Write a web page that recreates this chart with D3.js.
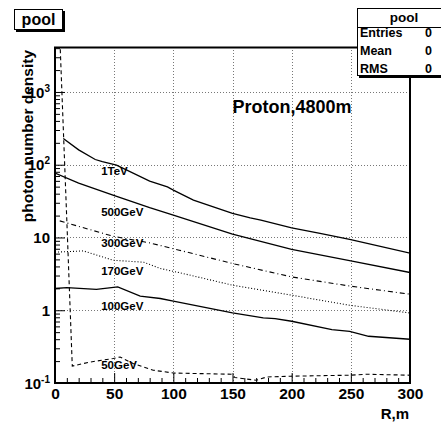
<!DOCTYPE html>
<html><head><meta charset="utf-8">
<script src="https://cdn.jsdelivr.net/npm/d3@7"></script>
<style>
html,body{margin:0;padding:0;background:#fff;}
svg text{font-family:"Liberation Sans",Arial,Helvetica,sans-serif;font-weight:bold;fill:#000;}
</style></head>
<body>
<svg id="c" width="441" height="424"></svg>
<script>
// ---- data ----
const seriesNames = ["1TeV","500GeV","300GeV","170GeV","100GeV","50GeV"];
const r1TeV = [7,20,34,40,52,80,95,100,117,150,165,174,200,224,249,300];
const v1TeV = [230,160,118,110,99,59.5,49.7,44.8,32.6,21.4,18.6,17.3,13.6,11.4,9.4,6.1];
const r500 = [0,20,49,80,100,150,200,250,300];
const v500 = [76.6,56,38.2,25.7,20.3,11.1,6.84,4.77,3.30];
const r300 = [4,49,80,105,150,200,250,300];
const v300 = [16.9,10.4,8.43,6.69,4.39,2.87,2.14,1.66];
const r170 = [0,24,49,75,89,106,150,200,249,300];
const v170 = [6.28,6.54,4.87,4.57,3.75,3.26,2.21,1.61,1.17,0.918];
const r100 = [0,10,35,53,72,89,100,150,176,186,200,234,249,265,300];
const v100 = [1.99,2.05,1.93,2.09,1.56,1.45,1.33,0.918,0.784,0.769,0.706,0.543,0.514,0.439,0.399];
const r50 = [4,10,14.6,29.6,49.3,55,66,83,100,149,152,170,179,199,249,263,300];
const v50 = [6000,17,0.171,0.194,0.217,0.228,0.185,0.150,0.137,0.132,0.119,0.109,0.121,0.124,0.128,0.132,0.128];
// label anchor positions (data coords)
const labelR = [39,39,39,39,39,39];
const labelV = [72,19.6,7.36,3.03,1.0,0.154];
const xTickValues = [0,50,100,150,200,250,300];
const yTickValues = [0.1,1,10,100,1000];
const yTickLabels = [["10","-1"],["1",""],["10",""],["10","2"],["10","3"]];
const xTitle = "R,m", yTitle = "photon number density";
const annot = "Proton,4800m", annotR = 150, annotV = 510;
const statNames = ["Entries","Mean","RMS"], statVals = ["0","0","0"];

// ---- layout ----
const L=55,R=410,T=47,B=383;
const svg = d3.select("#c");
const x = d3.scaleLinear().domain([0,300]).range([L,R]);
const y = d3.scaleLog().domain([0.1,4150]).range([B,T]);

svg.append("rect").attr("width",441).attr("height",424).attr("fill","#fff");
svg.append("defs").append("clipPath").attr("id","pc")
  .append("rect").attr("x",L).attr("y",T).attr("width",R-L).attr("height",B-T);

// grid
const grid = svg.append("g").attr("stroke","#777").attr("stroke-width",1).attr("stroke-dasharray","1,2");
[50,100,150,200,250].forEach(v=>grid.append("line").attr("x1",Math.round(x(v))+0.5).attr("x2",Math.round(x(v))+0.5).attr("y1",T).attr("y2",B));
[1,10,100,1000].forEach(v=>grid.append("line").attr("x1",L).attr("x2",R).attr("y1",Math.round(y(v))+0.5).attr("y2",Math.round(y(v))+0.5));

// curves
const line = d3.line().x(d=>x(d[0])).y(d=>y(d[1]));
const series = [
  [r1TeV,v1TeV,null,1.3],
  [r500,v500,null,1.3],
  [r300,v300,"5,3,1,3",1.1],
  [r170,v170,"1,2",1.1],
  [r100,v100,null,1.3],
  [r50,v50,"4,3",1.1]
];
const cg = svg.append("g").attr("clip-path","url(#pc)");
series.forEach(s=>{
  cg.append("path").datum(s[0].map((r,i)=>[r,s[1][i]]))
    .attr("d",line).attr("fill","none").attr("stroke","#000")
    .attr("stroke-width",s[3]).attr("stroke-dasharray",s[2]);
});

// series labels
seriesNames.forEach((n,i)=>{
  svg.append("text").attr("x",x(labelR[i])).attr("y",y(labelV[i]))
    .attr("font-size","11.5px").text(n);
});
svg.append("text").attr("x",x(annotR)).attr("y",y(annotV)).attr("font-size","18px").text(annot);

// axes
const minorX = d3.range(0,301,10).filter(v=>v%50!==0);
const gx = svg.append("g").attr("transform",`translate(0,${B})`);
gx.call(d3.axisBottom(x).tickValues(minorX).tickSize(-5).tickFormat(""));
const gx2 = svg.append("g").attr("transform",`translate(0,${B})`);
gx2.call(d3.axisBottom(x).tickValues(xTickValues).tickSize(-10).tickPadding(5).tickFormat(d3.format("d")));
[gx,gx2].forEach(g=>{g.select(".domain").remove(); g.selectAll("line").attr("stroke","#000");});
gx2.selectAll("text").attr("font-size","15.5px").attr("font-family",null).attr("dy","0.71em");

const minorY = [];
[0.1,1,10,100,1000].forEach(d=>{for(let k=2;k<=9;k++){const v=d*k; if(v<=4150) minorY.push(v);}});
const gy = svg.append("g").attr("transform",`translate(${L},0)`);
gy.call(d3.axisLeft(y).tickValues(minorY).tickSize(-5).tickFormat(""));
const gy2 = svg.append("g").attr("transform",`translate(${L},0)`);
gy2.call(d3.axisLeft(y).tickValues(yTickValues).tickSize(-10).tickPadding(5).tickFormat(""));
[gy,gy2].forEach(g=>{g.select(".domain").remove(); g.selectAll("line").attr("stroke","#000");});
gy2.selectAll(".tick text").each(function(d,i){
  const t = d3.select(this).attr("font-size","15px").attr("font-family",null).attr("dy","0.35em");
  t.append("tspan").text(yTickLabels[i][0]);
  if(yTickLabels[i][1]) t.append("tspan").attr("font-size","10px").attr("dy","-0.6em").text(yTickLabels[i][1]);
});

// frame
svg.append("rect").attr("x",L).attr("y",T+0.5).attr("width",R-L).attr("height",B-T-0.5)
  .attr("fill","none").attr("stroke","#000").attr("stroke-width",2);

// axis titles
svg.append("text").attr("x",409).attr("y",419).attr("text-anchor","end").attr("font-size","15px").text(xTitle);
svg.append("text").attr("transform","translate(33,50) rotate(-90)").attr("text-anchor","end")
  .attr("font-size","15.5px").text(yTitle);

// title box
svg.append("rect").attr("x",16).attr("y",11).attr("width",49).attr("height",21).attr("fill","#000");
svg.append("rect").attr("x",14.5).attr("y",9.5).attr("width",48).attr("height",20).attr("fill","#fff").attr("stroke","#000");
svg.append("text").attr("x",38.5).attr("y",25).attr("text-anchor","middle").attr("font-size","16px").text("pool");

// stats box
svg.append("rect").attr("x",359).attr("y",10).attr("width",95).attr("height",68).attr("fill","#000");
svg.append("rect").attr("x",357.5).attr("y",8.5).attr("width",95).attr("height",67).attr("fill","#fff").attr("stroke","#000");
svg.append("line").attr("x1",357.5).attr("x2",452).attr("y1",27.5).attr("y2",27.5).attr("stroke","#000");
svg.append("text").attr("x",404).attr("y",21.5).attr("text-anchor","middle").attr("font-size","13.5px").text("pool");
statNames.forEach((n,i)=>{
  svg.append("text").attr("x",360).attr("y",37+i*18).attr("font-size","12.5px").text(n);
  svg.append("text").attr("x",432).attr("y",37+i*18).attr("text-anchor","end").attr("font-size","12.5px").text(statVals[i]);
});
</script>
</body></html>
